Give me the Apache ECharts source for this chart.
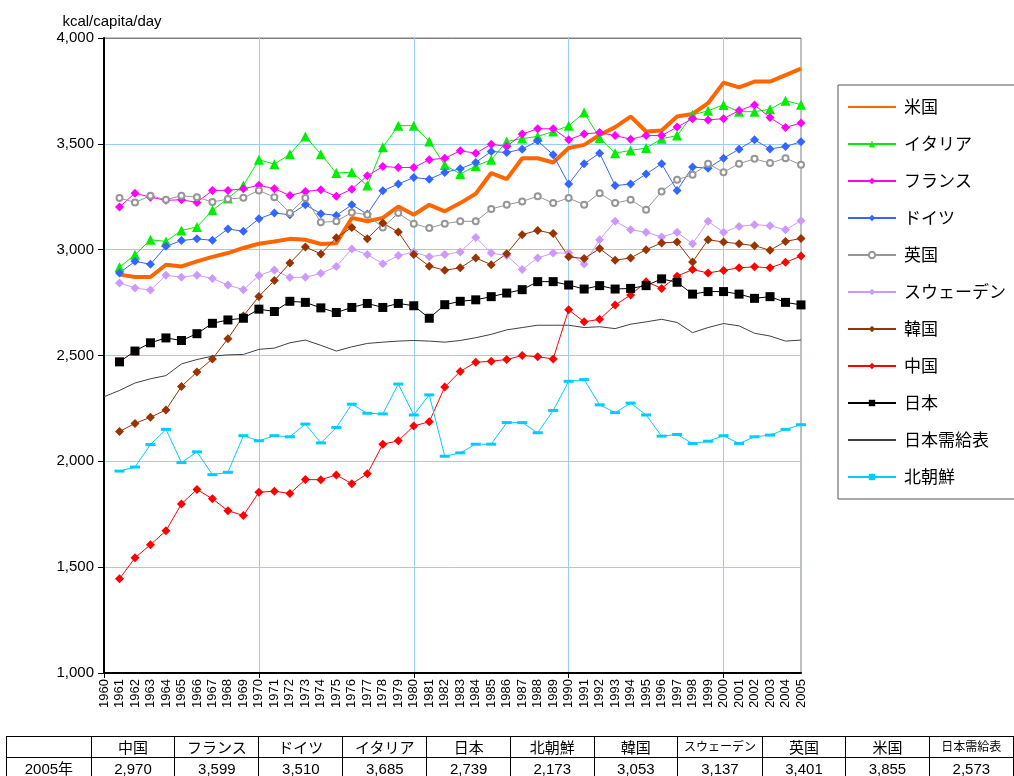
<!DOCTYPE html>
<html lang="ja" style="height: 100%">
<head>
  <meta charset="utf-8">
  <style>
    body {
      margin: 0;
      height: 100%;
      overflow: hidden;
      background: #fff;
      font-family: 'Liberation Sans', 'Noto Sans CJK JP', sans-serif;
    }
    #container { width: 1014px; height: 776px; }
    #tbl {
      position: absolute;
      left: 6px;
      top: 736px;
      border-collapse: collapse;
      table-layout: fixed;
      font-size: 15px;
    }
    #tbl td {
      border: 1px solid #000;
      height: 20px;
      padding: 0;
      text-align: center;
      white-space: nowrap;
      overflow: hidden;
      line-height: 19px;
    }
  </style>
</head>
<body>
  <div id="container"></div>
  <table id="tbl"></table>

  <script type="text/javascript" src="https://cdn.jsdelivr.net/npm/echarts@6/dist/echarts.min.js"></script>
  <script type="text/javascript">
// years on the axis (supply-table series starts 1960, the others 1961)
var years = [];
for (var y = 1960; y <= 2005; y++) years.push(String(y));

// kcal/capita/day, 1961-2005
var usa = [2882, 2871, 2871, 2929, 2921, 2945, 2966, 2984, 3008, 3028,
  3039, 3051, 3047, 3027, 3030, 3150, 3134, 3150, 3204, 3165,
  3212, 3181, 3220, 3264, 3362, 3333, 3432, 3432, 3412, 3480,
  3495, 3542, 3579, 3629, 3558, 3563, 3629, 3641, 3692, 3789,
  3767, 3794, 3794, 3825, 3855];
var italy = [2917, 2976, 3047, 3039, 3091, 3107, 3186, 3242, 3303, 3425,
  3404, 3451, 3535, 3451, 3362, 3366, 3303, 3484, 3586, 3586,
  3511, 3400, 3358, 3395, 3425, 3511, 3525, 3535, 3558, 3585,
  3648, 3527, 3456, 3469, 3480, 3524, 3539, 3637, 3656, 3684,
  3652, 3652, 3663, 3704, 3685];
var france = [3201, 3267, 3248, 3233, 3236, 3223, 3280, 3280, 3288, 3304,
  3288, 3256, 3275, 3283, 3252, 3286, 3349, 3393, 3388, 3388,
  3425, 3432, 3467, 3456, 3498, 3487, 3546, 3571, 3571, 3519,
  3547, 3553, 3539, 3522, 3539, 3539, 3579, 3619, 3613, 3619,
  3657, 3684, 3624, 3577, 3599];
var germany = [2890, 2945, 2931, 3016, 3043, 3051, 3044, 3098, 3087, 3146,
  3173, 3165, 3212, 3170, 3162, 3212, 3168, 3278, 3310, 3341,
  3333, 3365, 3382, 3412, 3464, 3459, 3475, 3514, 3448, 3310,
  3406, 3456, 3303, 3310, 3357, 3406, 3280, 3390, 3385, 3432,
  3475, 3519, 3476, 3487, 3510];
var uk = [3244, 3223, 3255, 3236, 3255, 3248, 3225, 3239, 3245, 3280,
  3248, 3173, 3244, 3129, 3134, 3176, 3165, 3105, 3173, 3123,
  3102, 3123, 3134, 3134, 3192, 3212, 3228, 3252, 3220, 3244,
  3212, 3267, 3220, 3236, 3189, 3275, 3330, 3354, 3406, 3366,
  3406, 3429, 3409, 3432, 3401];
var sweden = [2843, 2819, 2809, 2879, 2870, 2879, 2864, 2833, 2811, 2878,
  2904, 2868, 2870, 2888, 2920, 3003, 2977, 2934, 2972, 2989,
  2966, 2977, 2989, 3058, 2984, 2972, 2906, 2961, 2984, 2984,
  2932, 3047, 3134, 3094, 3082, 3060, 3082, 3028, 3134, 3082,
  3110, 3118, 3113, 3094, 3137];
var korea = [2141, 2179, 2208, 2243, 2354, 2422, 2484, 2579, 2687, 2779,
  2854, 2937, 3013, 2980, 3056, 3105, 3052, 3126, 3083, 2977,
  2922, 2903, 2914, 2961, 2929, 2981, 3071, 3091, 3076, 2966,
  2958, 3005, 2950, 2961, 3000, 3032, 3036, 2942, 3047, 3036,
  3028, 3019, 2997, 3039, 3053];
var china = [1445, 1544, 1606, 1672, 1799, 1867, 1823, 1767, 1744, 1854,
  1859, 1848, 1914, 1913, 1936, 1894, 1941, 2081, 2097, 2167,
  2187, 2351, 2425, 2468, 2473, 2481, 2500, 2494, 2484, 2716,
  2659, 2671, 2738, 2786, 2849, 2817, 2875, 2906, 2890, 2902,
  2914, 2919, 2914, 2940, 2970];
var japan = [2470, 2521, 2560, 2583, 2571, 2603, 2652, 2668, 2676, 2719,
  2708, 2756, 2751, 2725, 2703, 2727, 2746, 2727, 2746, 2735,
  2676, 2740, 2756, 2763, 2778, 2795, 2811, 2849, 2849, 2833,
  2814, 2830, 2814, 2817, 2830, 2862, 2846, 2790, 2802, 2802,
  2790, 2770, 2778, 2751, 2739];
var northKorea = [1954, 1973, 2079, 2151, 1994, 2045, 1937, 1948, 2121, 2097,
  2121, 2116, 2176, 2087, 2160, 2270, 2227, 2224, 2365, 2219,
  2314, 2024, 2040, 2081, 2081, 2183, 2183, 2135, 2240, 2378,
  2386, 2267, 2230, 2275, 2219, 2119, 2127, 2084, 2095, 2121,
  2084, 2116, 2124, 2151, 2173];
// 日本需給表, 1960-2005
var japanSupply = [2305, 2335, 2370, 2390, 2405, 2460, 2481, 2497, 2503, 2505,
  2529, 2535, 2560, 2573, 2548, 2521, 2541, 2557, 2563, 2568,
  2571, 2568, 2563, 2571, 2584, 2600, 2621, 2632, 2643, 2643,
  2643, 2632, 2636, 2627, 2648, 2659, 2671, 2656, 2608, 2632,
  2651, 2640, 2605, 2592, 2568, 2573];

var yTicks = [1000, 1500, 2000, 2500, 3000, 3500, 4000];

var from1961 = function (arr) { return [null].concat(arr); };

var defs = [
  { name: '米国', data: from1961(usa), color: '#ff6600', width: 4, symbol: 'none' },
  { name: 'イタリア', data: from1961(italy), color: '#00ee00', symbol: 'triangle', size: 10 },
  { name: 'フランス', data: from1961(france), color: '#ff00ff', symbol: 'diamond', size: 9 },
  { name: 'ドイツ', data: from1961(germany), color: '#3366ff', symbol: 'diamond', size: 9 },
  { name: '英国', data: from1961(uk), color: '#969696', symbol: 'emptyCircle', size: 6 },
  { name: 'スウェーデン', data: from1961(sweden), color: '#cc99ff', symbol: 'diamond', size: 9 },
  { name: '韓国', data: from1961(korea), color: '#993300', symbol: 'diamond', size: 9 },
  { name: '中国', data: from1961(china), color: '#ff0000', symbol: 'diamond', size: 9 },
  { name: '日本', data: from1961(japan), color: '#000000', symbol: 'rect', size: 9 },
  { name: '日本需給表', data: japanSupply, color: '#404040', symbol: 'none' },
  { name: '北朝鮮', data: from1961(northKorea), color: '#00ccff', symbol: 'rect', size: [10, 3] }
];

var tableOrder = [
  ['中国', china], ['フランス', france], ['ドイツ', germany], ['イタリア', italy],
  ['日本', japan], ['北朝鮮', northKorea], ['韓国', korea], ['スウェーデン', sweden],
  ['英国', uk], ['米国', usa], ['日本需給表', japanSupply]
];

var dom = document.getElementById('container');
var myChart = echarts.init(dom, null, { renderer: 'canvas' });

var series = defs.map(function (d) {
  return {
    name: d.name,
    type: 'line',
    data: d.data,
    symbol: d.symbol,
    symbolSize: d.size || 4,
    showSymbol: d.symbol !== 'none',
    connectNulls: false,
    color: d.color,
    lineStyle: { color: d.color, width: d.width || 1 },
    itemStyle: d.symbol === 'emptyCircle'
      ? { color: d.color, borderColor: d.color, borderWidth: 1 }
      : { color: d.color, borderWidth: 0 },
    emphasis: { disabled: true }
  };
});

// legend entries: hide the marker of the plain-line series
var legendData = defs.map(function (d) {
  return d.symbol === 'none'
    ? { name: d.name, itemStyle: { opacity: 0 } }
    : { name: d.name };
});

var option = {
  animation: false,
  grid: {
    left: 104, right: 213, top: 38, bottom: 103,
    show: true, borderColor: '#808080', borderWidth: 1
  },
  legend: {
    orient: 'vertical',
    left: 838, top: 85,
    padding: [13, 80, 13, 9],
    itemWidth: 48, itemHeight: 8, itemGap: 19,
    borderColor: '#555', borderWidth: 1,
    data: legendData,
    textStyle: {
      fontFamily: 'Noto Sans CJK JP', fontSize: 17, color: '#000',
      lineHeight: 18, padding: [0, 0, 0, 3]
    }
  },
  xAxis: {
    type: 'category',
    data: years,
    boundaryGap: false,
    axisLine: { lineStyle: { color: '#000', width: 2 } },
    axisTick: {
      length: 5, lineStyle: { color: '#000' },
      interval: function (i) { return i % 10 === 0; }
    },
    axisLabel: {
      rotate: 90, interval: 0, fontSize: 13, color: '#000', margin: 6,
      fontFamily: 'Liberation Sans'
    },
    splitLine: {
      show: true,
      interval: function (i) { return i % 10 === 0; },
      lineStyle: { color: '#99ccff', width: 1 }
    }
  },
  yAxis: {
    type: 'value',
    min: yTicks[0], max: yTicks[yTicks.length - 1], interval: 500,
    name: 'kcal/capita/day',
    nameGap: 9,
    nameTextStyle: {
      fontFamily: 'Liberation Sans', fontSize: 15, color: '#000',
      padding: [0, 0, 0, 16]
    },
    axisLine: { show: true, lineStyle: { color: '#000', width: 2 } },
    axisTick: { show: true, length: 6, lineStyle: { color: '#000' } },
    axisLabel: {
      fontSize: 15, color: '#000', margin: 10, fontFamily: 'Liberation Sans',
      formatter: function (v) { return v.toLocaleString('en-US'); }
    },
    splitLine: {
      lineStyle: {
        color: yTicks.map(function (t, i) { return i === yTicks.length - 1 ? '#808080' : '#99ccff'; }),
        width: 1
      }
    }
  },
  series: series
};

myChart.setOption(option);

// 2005 values table under the chart
var tbl = document.getElementById('tbl');
var head = '<tr><td style="width:85px"></td>';
var row = '<tr><td>2005年</td>';
tableOrder.forEach(function (c) {
  var small = c[0].length > 4 ? ' style="width:84px;font-size:12px"' : ' style="width:84px"';
  head += '<td' + small + '>' + c[0] + '</td>';
  row += '<td>' + c[1][c[1].length - 1].toLocaleString('en-US') + '</td>';
});
tbl.innerHTML = head + '</tr>' + row + '</tr>';

window.addEventListener('resize', myChart.resize);
  </script>
</body>
</html>
